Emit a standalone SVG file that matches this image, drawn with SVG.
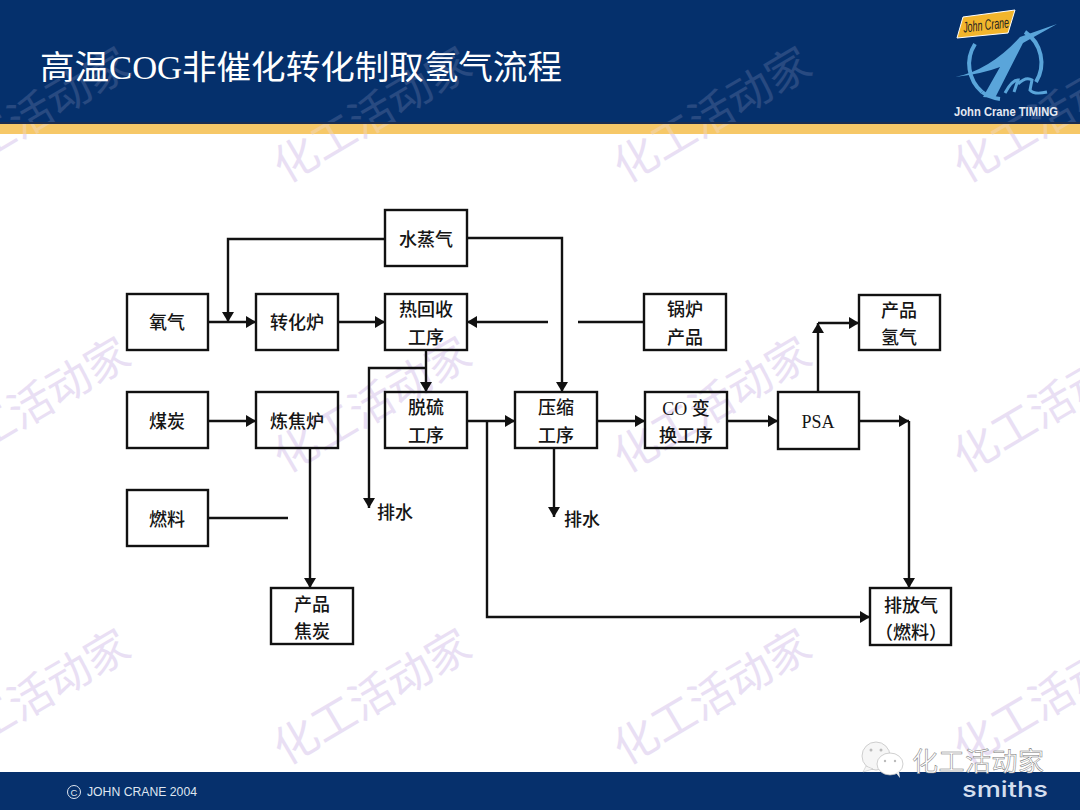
<svg xmlns="http://www.w3.org/2000/svg" width="1080" height="810" viewBox="0 0 1080 810">
<style>
.b{fill:none;stroke:#111;stroke-width:2.4}
.t{font-family:"Liberation Serif","Noto Sans CJK SC",serif;font-size:18px;font-weight:500;fill:#151515;text-anchor:middle}
.l{fill:none;stroke:#111;stroke-width:2.4}
.wm text{font-family:"Noto Sans CJK SC",sans-serif;font-size:44px;font-weight:400;fill:#e9dff4}
</style>
<defs>
<marker id="a" markerUnits="userSpaceOnUse" markerWidth="11" markerHeight="12" refX="10" refY="6" orient="auto"><path d="M0 0L10 6L0 12Z" fill="#111"/></marker>
</defs>
<rect width="1080" height="810" fill="#fff"/>
<g id="header-base">
<rect width="1080" height="124" fill="#06306c"/>
<rect y="124" width="1080" height="10" fill="#f6c868"/>
</g>
<g id="watermarks" class="wm">
<text transform="translate(-18,162) rotate(-30.5)">工活动家</text>
<text transform="translate(285,184) rotate(-30.5)">化工活动家</text>
<text transform="translate(625,184) rotate(-30.5)">化工活动家</text>
<text transform="translate(965,184) rotate(-30.5)">化工活动</text>
<text transform="translate(-18,452) rotate(-30.5)">工活动家</text>
<text transform="translate(285,474) rotate(-30.5)">化工活动家</text>
<text transform="translate(625,474) rotate(-30.5)">化工活动家</text>
<text transform="translate(965,474) rotate(-30.5)">化工活动</text>
<text transform="translate(-18,744) rotate(-30.5)">工活动家</text>
<text transform="translate(285,766) rotate(-30.5)">化工活动家</text>
<text transform="translate(625,766) rotate(-30.5)">化工活动家</text>
<text transform="translate(965,766) rotate(-30.5)">化工活动</text>
</g>
<g id="header">
<rect width="1080" height="124" fill="#06306c" opacity="0.85"/>
<rect y="122" width="1080" height="2" fill="#1c2d50"/>
<rect y="124" width="1080" height="10" fill="#f6c868" opacity="0.7"/>
<text x="40" y="79" font-family="'Liberation Serif','Noto Sans CJK SC',serif" font-size="33" font-weight="400" fill="#fff" textLength="522" lengthAdjust="spacingAndGlyphs">高温COG非催化转化制取氢气流程</text>
</g>
<g id="logo">
<path d="M975 44A37 37 0 0 0 982 92" fill="none" stroke="#5aa5da" stroke-width="4"/>
<path d="M982 92A37 37 0 0 0 1000 99" fill="none" stroke="#5aa5da" stroke-width="4"/>
<path d="M1025 32A37 37 0 0 1 1036 82" fill="none" stroke="#5aa5da" stroke-width="4"/>
<path d="M955 77Q990 70 1020 37L1057 24L1023 43L995 98L983 97L1000 67Q982 74 955 77Z" fill="#5aa5da"/>
<path d="M1005 93Q1012 80 1018 80L1014 92M1018 84Q1026 76 1032 80L1030 90Q1034 95 1047 92" fill="none" stroke="#5aa5da" stroke-width="3"/>
<path d="M963 17L1015 10L1008 33L957 38Z" fill="#f2b52c" stroke="#fff" stroke-width="1"/>
<text x="986" y="30" transform="rotate(-6 986 25)" font-family="'Liberation Sans',sans-serif" font-size="15" font-style="italic" fill="#222" text-anchor="middle" textLength="46" lengthAdjust="spacingAndGlyphs">John Crane</text>
<text x="1006" y="116" font-family="'Liberation Sans',sans-serif" font-size="12.5" font-weight="700" fill="#e4e9f2" text-anchor="middle" textLength="104" lengthAdjust="spacingAndGlyphs">John Crane TIMING</text>
</g>
<g id="footer">
<rect y="772" width="1080" height="38" fill="#06306c"/>
<circle cx="74" cy="792" r="6.5" fill="none" stroke="#dfe6f0" stroke-width="1"/>
<text x="74" y="795.500" font-family="'Liberation Sans',sans-serif" font-size="9.500" fill="#dfe6f0" text-anchor="middle">C</text>
<text x="87" y="796" font-family="'Liberation Sans',sans-serif" font-size="12.500" fill="#dfe6f0" textLength="110" lengthAdjust="spacingAndGlyphs">JOHN CRANE 2004</text>
<text x="1005" y="797" font-family="'Inter','Liberation Sans',sans-serif" font-size="22" font-weight="500" fill="#d4deee" text-anchor="middle" textLength="86" lengthAdjust="spacingAndGlyphs">smiths</text>
</g>
<g id="connectors">
<path class="l" d="M385 239H228V322" marker-end="url(#a)"/>
<path class="l" d="M208 322H256" marker-end="url(#a)"/>
<path class="l" d="M338 322H385" marker-end="url(#a)"/>
<path class="l" d="M644 322H578"/>
<path class="l" d="M548 322H467" marker-end="url(#a)"/>
<path class="l" d="M467 238H562V392" marker-end="url(#a)"/>
<path class="l" d="M426 350V392" marker-end="url(#a)"/>
<path class="l" d="M426 368H369V508" marker-end="url(#a)"/>
<path class="l" d="M208 421H256" marker-end="url(#a)"/>
<path class="l" d="M467 421H515" marker-end="url(#a)"/>
<path class="l" d="M487 421V617H870" marker-end="url(#a)"/>
<path class="l" d="M597 421H645" marker-end="url(#a)"/>
<path class="l" d="M727 421H778" marker-end="url(#a)"/>
<path class="l" d="M818 392V323" marker-end="url(#a)"/>
<path class="l" d="M818 323H859" marker-end="url(#a)"/>
<path class="l" d="M859 421H909" marker-end="url(#a)"/>
<path class="l" d="M909 421V588" marker-end="url(#a)"/>
<path class="l" d="M554 448V517" marker-end="url(#a)"/>
<path class="l" d="M310 448V588" marker-end="url(#a)"/>
<path class="l" d="M208 518H288"/>
</g>
<g id="n-steam"><rect class="b" x="385" y="210" width="82" height="56"/><text class="t" x="426" y="246">水蒸气</text></g>
<g id="n-oxygen"><rect class="b" x="127" y="294" width="81" height="56"/><text class="t" x="167" y="329">氧气</text></g>
<g id="n-reformer"><rect class="b" x="256" y="294" width="82" height="56"/><text class="t" x="297" y="329">转化炉</text></g>
<g id="n-heat"><rect class="b" x="385" y="294" width="82" height="56"/><text class="t" x="426" y="316">热回收</text><text class="t" x="426" y="344">工序</text></g>
<g id="n-boiler"><rect class="b" x="644" y="294" width="82" height="56"/><text class="t" x="685" y="316">锅炉</text><text class="t" x="685" y="344">产品</text></g>
<g id="n-h2"><rect class="b" x="859" y="295" width="81" height="55"/><text class="t" x="899" y="317">产品</text><text class="t" x="899" y="344">氢气</text></g>
<g id="n-coal"><rect class="b" x="127" y="392" width="81" height="56"/><text class="t" x="167" y="428">煤炭</text></g>
<g id="n-coke"><rect class="b" x="256" y="392" width="82" height="56"/><text class="t" x="297" y="428">炼焦炉</text></g>
<g id="n-desulf"><rect class="b" x="385" y="392" width="82" height="56"/><text class="t" x="426" y="414">脱硫</text><text class="t" x="426" y="442">工序</text></g>
<g id="n-comp"><rect class="b" x="515" y="392" width="82" height="56"/><text class="t" x="556" y="414">压缩</text><text class="t" x="556" y="442">工序</text></g>
<g id="n-co"><rect class="b" x="645" y="392" width="82" height="56"/><text class="t" x="686" y="415" font-weight="700">CO 变</text><text class="t" x="686" y="442">换工序</text></g>
<g id="n-psa"><rect class="b" x="778" y="392" width="81" height="57"/><text class="t" x="818" y="428" font-weight="700">PSA</text></g>
<g id="n-fuel"><rect class="b" x="127" y="490" width="81" height="56"/><text class="t" x="167" y="526">燃料</text></g>
<g id="n-cokeprod"><rect class="b" x="271" y="588" width="82" height="56"/><text class="t" x="312" y="611">产品</text><text class="t" x="312" y="638">焦炭</text></g>
<g id="n-tail"><rect class="b" x="870" y="588" width="81" height="57"/><text class="t" x="911" y="612">排放气</text><text class="t" x="911" y="639">（燃料）</text></g>
<text class="t" x="395" y="519">排水</text>
<text class="t" x="582" y="526">排水</text>
<g id="wechat">
<ellipse cx="876" cy="756" rx="14" ry="14" fill="#f6f6f6" stroke="#bbb" stroke-width="0.7"/>
<path d="M866 766L863 772L873 769Z" fill="#f6f6f6" stroke="#bbb" stroke-width="0.5"/>
<ellipse cx="890" cy="764" rx="13" ry="11" fill="#fff" stroke="#bbb" stroke-width="0.7"/>
<path d="M896 773L900 778L899 771Z" fill="#eee"/>
<circle cx="871" cy="750" r="1.500" fill="#bbb"/><circle cx="881" cy="750" r="1.500" fill="#bbb"/>
<circle cx="885" cy="761" r="1.200" fill="#bbb"/><circle cx="895" cy="761" r="1.200" fill="#bbb"/>
<text x="912" y="771" font-family="'Noto Sans CJK SC',sans-serif" font-size="26" fill="#fff" stroke="#777" stroke-width="0.5" textLength="132">化工活动家</text>
</g>
</svg>
